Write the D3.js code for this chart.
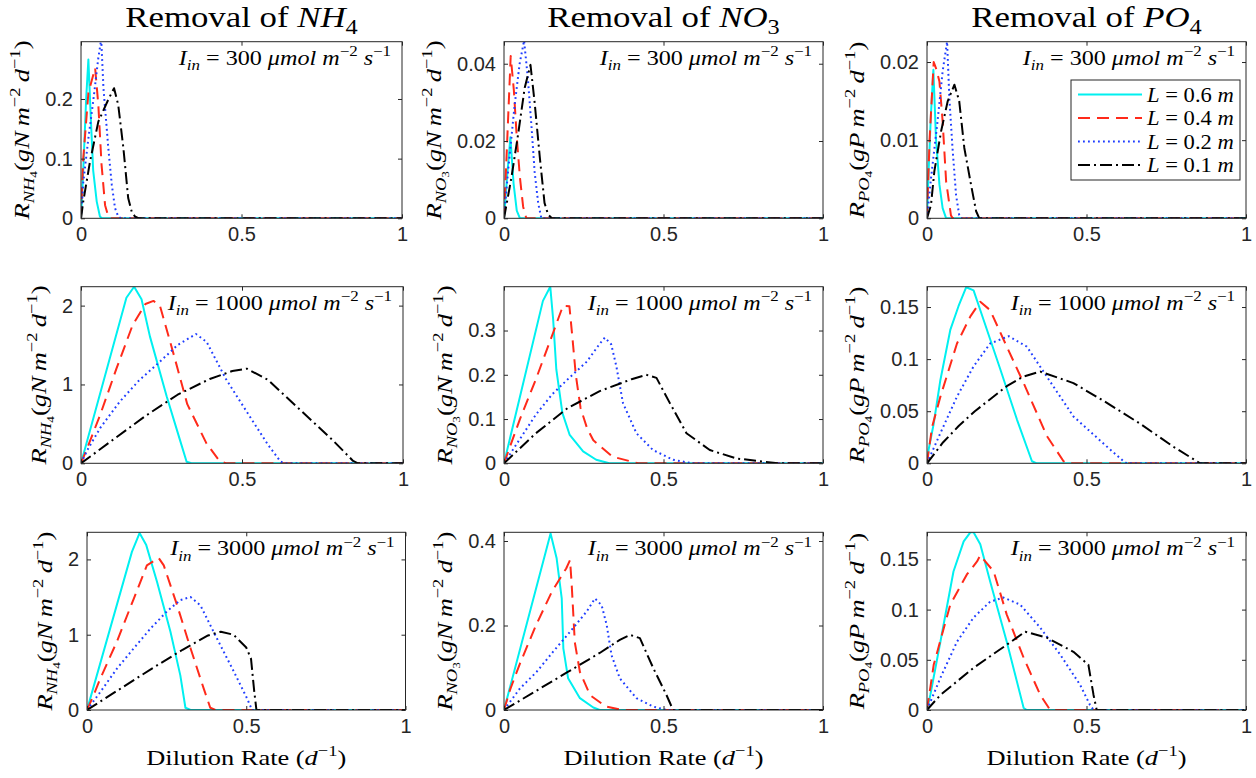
<!DOCTYPE html>
<html>
<head>
<meta charset="utf-8">
<script src="https://cdn.jsdelivr.net/npm/d3@7"></script>
<style>
  body { margin: 0; background: #fff; }
  text { white-space: pre; }
</style>
</head>
<body>
<script>
// ---- data: [dilution rate, removal rate] per series, order L = 0.6, 0.4, 0.2, 0.1 m
const lengths = ['0.6', '0.4', '0.2', '0.1'];
const intensities = ['300', '1000', '3000'];
const nutrients = [['NH', '4', 'gN'], ['NO', '3', 'gN'], ['PO', '4', 'gP']];

const NH4_300 = [
  [[0,0],[0.007,0.08],[0.016,0.2],[0.023,0.266],[0.031,0.162],[0.038,0.08],[0.049,0.028],[0.059,0.003],[0.065,0],[1,0]],
  [[0,0],[0.007,0.1],[0.023,0.21],[0.044,0.252],[0.054,0.19],[0.064,0.09],[0.075,0.022],[0.085,0.003],[0.092,0],[1,0]],
  [[0,0],[0.007,0.06],[0.023,0.134],[0.038,0.196],[0.054,0.269],[0.063,0.3],[0.07,0.218],[0.085,0.118],[0.096,0.056],[0.106,0.017],[0.116,0.003],[0.125,0],[1,0]],
  [[0,0],[0.007,0.028],[0.028,0.095],[0.054,0.162],[0.085,0.199],[0.103,0.218],[0.116,0.19],[0.132,0.118],[0.147,0.034],[0.158,0.011],[0.168,0.003],[0.18,0],[1,0]]
];
const NO3_300 = [
  [[0,0],[0.01,0.011],[0.02,0.021],[0.03,0.009],[0.04,0.002],[0.05,0],[1,0]],
  [[0,0],[0.01,0.02],[0.021,0.042],[0.031,0.033],[0.04,0.021],[0.05,0.0105],[0.06,0.003],[0.07,0],[1,0]],
  [[0,0],[0.0125,0.012],[0.033,0.029],[0.049,0.04],[0.063,0.046],[0.075,0.036],[0.086,0.024],[0.096,0.012],[0.107,0.004],[0.117,0],[1,0]],
  [[0,0],[0.023,0.0104],[0.044,0.0216],[0.065,0.0338],[0.083,0.0397],[0.096,0.03],[0.112,0.016],[0.127,0.004],[0.138,0.001],[0.15,0],[1,0]]
];
const PO4_300 = [
  [[0,0],[0.005,0.006],[0.012,0.013],[0.02,0.019],[0.028,0.0103],[0.039,0.0043],[0.049,0.0013],[0.06,0],[1,0]],
  [[0,0],[0.008,0.01],[0.021,0.02],[0.03,0.019],[0.039,0.0175],[0.049,0.0124],[0.06,0.0047],[0.075,0.0004],[0.08,0],[1,0]],
  [[0,0],[0.0125,0.0051],[0.033,0.0124],[0.049,0.0188],[0.063,0.0226],[0.07,0.0154],[0.08,0.009],[0.091,0.003],[0.101,0.0004],[0.107,0],[1,0]],
  [[0,0],[0.0125,0.0017],[0.023,0.006],[0.044,0.0111],[0.065,0.015],[0.086,0.0171],[0.101,0.015],[0.117,0.009],[0.138,0.0043],[0.154,0.0009],[0.164,0],[1,0]]
];
const NH4_1000 = [
  [[0,0],[0.141,2.1],[0.165,2.24],[0.188,2.08],[0.214,1.61],[0.266,0.85],[0.307,0.3],[0.328,0.02],[0.343,0],[1,0]],
  [[0,0],[0.02,0.2],[0.06,0.62],[0.11,1.2],[0.16,1.75],[0.2,2.02],[0.225,2.06],[0.245,2.0],[0.29,1.35],[0.33,0.75],[0.39,0.25],[0.43,0.03],[0.45,0],[1,0]],
  [[0,0],[0.02,0.17],[0.06,0.45],[0.12,0.78],[0.18,1.05],[0.24,1.27],[0.3,1.5],[0.357,1.64],[0.39,1.54],[0.45,1.07],[0.52,0.62],[0.58,0.24],[0.62,0.02],[0.635,0],[1,0]],
  [[0,0],[0.1,0.3],[0.2,0.6],[0.3,0.87],[0.4,1.07],[0.47,1.17],[0.515,1.2],[0.58,1.06],[0.68,0.68],[0.78,0.3],[0.845,0.03],[0.86,0],[1,0]]
];
const NO3_1000 = [
  [[0,0],[0.122,0.367],[0.145,0.399],[0.154,0.326],[0.164,0.212],[0.183,0.114],[0.206,0.064],[0.248,0.027],[0.289,0.008],[0.33,0],[1,0]],
  [[0,0],[0.05,0.1],[0.1,0.19],[0.154,0.295],[0.185,0.356],[0.205,0.355],[0.215,0.28],[0.225,0.2],[0.24,0.125],[0.26,0.08],[0.28,0.052],[0.34,0.015],[0.42,0],[1,0]],
  [[0,0],[0.05,0.055],[0.1,0.11],[0.15,0.155],[0.2,0.19],[0.26,0.23],[0.3,0.27],[0.316,0.284],[0.336,0.269],[0.352,0.22],[0.373,0.136],[0.415,0.068],[0.467,0.03],[0.53,0.008],[0.59,0],[1,0]],
  [[0,0],[0.1,0.068],[0.2,0.125],[0.3,0.163],[0.4,0.19],[0.446,0.2],[0.478,0.193],[0.52,0.136],[0.572,0.068],[0.645,0.03],[0.728,0.011],[0.81,0.004],[0.864,0],[1,0]]
];
const PO4_1000 = [
  [[0,0],[0.005,0.013],[0.021,0.038],[0.042,0.08],[0.073,0.128],[0.099,0.151],[0.123,0.169],[0.146,0.166],[0.177,0.138],[0.23,0.09],[0.282,0.042],[0.329,0.002],[0.344,0],[1,0]],
  [[0,0],[0.016,0.035],[0.042,0.064],[0.094,0.115],[0.136,0.141],[0.167,0.155],[0.198,0.147],[0.25,0.112],[0.303,0.077],[0.376,0.026],[0.428,0.002],[0.44,0],[1,0]],
  [[0,0],[0.042,0.029],[0.094,0.064],[0.146,0.093],[0.198,0.115],[0.256,0.122],[0.313,0.112],[0.376,0.083],[0.459,0.045],[0.564,0.016],[0.616,0.002],[0.626,0],[1,0]],
  [[0,0],[0.05,0.02],[0.1,0.036],[0.15,0.05],[0.2,0.062],[0.25,0.074],[0.3,0.083],[0.355,0.088],[0.459,0.077],[0.564,0.058],[0.668,0.038],[0.772,0.016],[0.856,0],[1,0]]
];
const NH4_3000 = [
  [[0,0],[0.141,2.1],[0.165,2.35],[0.186,2.19],[0.22,1.7],[0.262,1.04],[0.293,0.46],[0.309,0.03],[0.325,0],[1,0]],
  [[0,0],[0.021,0.2],[0.042,0.42],[0.094,0.91],[0.147,1.48],[0.188,1.92],[0.225,2.02],[0.241,1.92],[0.283,1.39],[0.325,0.82],[0.366,0.29],[0.387,0.03],[0.403,0],[1,0]],
  [[0,0],[0.042,0.24],[0.094,0.55],[0.147,0.82],[0.199,1.08],[0.251,1.31],[0.293,1.46],[0.325,1.5],[0.356,1.39],[0.408,0.95],[0.461,0.51],[0.503,0.15],[0.518,0],[1,0]],
  [[0,0],[0.1,0.27],[0.2,0.54],[0.3,0.8],[0.38,0.99],[0.42,1.04],[0.46,1.0],[0.5,0.83],[0.515,0.68],[0.525,0.25],[0.532,0],[1,0]]
];
const NO3_3000 = [
  [[0,0],[0.146,0.418],[0.165,0.359],[0.181,0.264],[0.186,0.146],[0.201,0.075],[0.238,0.028],[0.28,0.006],[0.3,0],[1,0]],
  [[0,0],[0.02,0.05],[0.05,0.11],[0.1,0.2],[0.15,0.28],[0.195,0.335],[0.207,0.355],[0.212,0.3],[0.222,0.16],[0.238,0.09],[0.27,0.035],[0.32,0.008],[0.37,0],[1,0]],
  [[0,0],[0.05,0.051],[0.102,0.09],[0.154,0.138],[0.207,0.185],[0.259,0.233],[0.285,0.264],[0.306,0.248],[0.322,0.201],[0.337,0.13],[0.363,0.075],[0.415,0.028],[0.468,0.008],[0.509,0],[1,0]],
  [[0,0],[0.1,0.045],[0.2,0.09],[0.3,0.135],[0.363,0.166],[0.395,0.178],[0.426,0.17],[0.468,0.099],[0.509,0.036],[0.53,0],[1,0]]
];
const PO4_3000 = [
  [[0,0],[0.0104,0.015],[0.042,0.068],[0.083,0.138],[0.115,0.168],[0.136,0.177],[0.146,0.177],[0.167,0.165],[0.198,0.128],[0.25,0.068],[0.303,0.002],[0.313,0],[1,0]],
  [[0,0],[0.021,0.045],[0.073,0.105],[0.125,0.135],[0.157,0.148],[0.167,0.154],[0.209,0.138],[0.25,0.095],[0.303,0.052],[0.355,0.015],[0.386,0],[1,0]],
  [[0,0],[0.042,0.032],[0.094,0.068],[0.146,0.092],[0.198,0.108],[0.24,0.112],[0.292,0.105],[0.355,0.082],[0.418,0.055],[0.48,0.025],[0.511,0.005],[0.522,0],[1,0]],
  [[0,0],[0.042,0.015],[0.146,0.042],[0.25,0.065],[0.308,0.078],[0.376,0.072],[0.459,0.058],[0.506,0.045],[0.522,0.015],[0.532,0],[1,0]]
];

const panels = [
  [NH4_300, NO3_300, PO4_300],
  [NH4_1000, NO3_1000, PO4_1000],
  [NH4_3000, NO3_3000, PO4_3000]
];
const yMax = [[0.296, 0.0457, 0.0226], [2.24, 0.399, 0.1695], [2.36, 0.4206, 0.177]];
const yTicks = [
  [[0, 0.1, 0.2], [0, 0.02, 0.04], [0, 0.01, 0.02]],
  [[0, 1, 2], [0, 0.1, 0.2, 0.3], [0, 0.05, 0.1, 0.15]],
  [[0, 1, 2], [0, 0.2, 0.4], [0, 0.05, 0.1, 0.15]]
];
const xTicks = [0, 0.5, 1];

// ---- layout (pixel boxes of the axes, as in the figure)
const W = 1256, H = 778;
const rowTB = [[41.7, 218.3], [286.7, 463.3], [532.3, 710]];
const colLR = [
  [[81, 402], [504, 823], [927, 1246]],
  [[81, 403], [504, 823], [927, 1246]],
  [[87, 405.5], [504, 823], [927, 1246]]
];
const colors = ['#00f0f0', '#ff2a1a', '#1f3dff', '#000000'];
const dashes = [null, '12,7', '1.8,3.2', '12,4,2,4'];
const AX = '#262626';
const SANS = "'Liberation Sans', Arial, sans-serif";
const SERIF = "'Liberation Serif', 'Times New Roman', serif";

const svg = d3.select('body').append('svg')
  .attr('width', W).attr('height', H)
  .style('background', '#fff');

// write a little math string: segs = [text, {i: italic, k: size factor, sh: baseline shift in em}]
function mtext(parent, segs, size, anchor) {
  const t = parent.append('text')
    .attr('font-family', SERIF)
    .attr('font-size', size)
    .attr('fill', '#000')
    .attr('text-anchor', anchor || 'start');
  let cur = 0;
  segs.forEach(([s, o]) => {
    const sh = (o.sh || 0) * size;
    t.append('tspan')
      .attr('dy', sh - cur)
      .attr('font-style', o.i ? 'italic' : 'normal')
      .attr('font-size', size * (o.k || 1))
      .text(s);
    cur = sh;
  });
  return t;
}

const line = (x, y) => d3.line().x(d => x(d[0])).y(d => y(d[1]));

panels.forEach((row, r) => {
  row.forEach((series, c) => {
    const [l, rt] = colLR[r][c];
    const [t, b] = rowTB[r];
    const x = d3.scaleLinear().domain([0, 1]).range([l, rt]);
    const y = d3.scaleLinear().domain([0, yMax[r][c]]).range([b, t]);
    const g = svg.append('g');
    const id = `clip${r}${c}`;
    g.append('clipPath').attr('id', id)
      .append('rect').attr('x', l).attr('y', t).attr('width', rt - l).attr('height', b - t);

    // series
    const lg = g.append('g').attr('clip-path', `url(#${id})`);
    series.forEach((pts, i) => {
      lg.append('path')
        .datum(pts)
        .attr('d', line(x, y))
        .attr('fill', 'none')
        .attr('stroke', colors[i])
        .attr('stroke-width', 2)
        .attr('stroke-dasharray', dashes[i])
        .attr('stroke-linejoin', 'round');
    });

    // axes: ticks inward on all four sides
    const fmt = d => String(d);
    const ax = g.append('g');
    ax.append('g').attr('transform', `translate(0,${b})`)
      .call(d3.axisBottom(x).tickValues(xTicks).tickSize(-4).tickPadding(9).tickFormat(fmt));
    ax.append('g').attr('transform', `translate(0,${t})`)
      .call(d3.axisTop(x).tickValues(xTicks).tickSize(-4).tickFormat(''));
    const yl = ax.append('g').attr('transform', `translate(${l},0)`)
      .call(d3.axisLeft(y).tickValues(yTicks[r][c]).tickSize(-4).tickPadding(8).tickFormat(fmt));
    ax.append('g').attr('transform', `translate(${rt},0)`)
      .call(d3.axisRight(y).tickValues(yTicks[r][c]).tickSize(-4).tickFormat(''));
    ax.selectAll('.domain').remove();
    ax.selectAll('g').attr('font-family', SANS).attr('font-size', 20);
    ax.selectAll('.tick line').attr('stroke', AX).attr('stroke-width', 1);
    ax.selectAll('.tick text').attr('fill', AX);
    g.append('rect').attr('x', l).attr('y', t).attr('width', rt - l).attr('height', b - t)
      .attr('fill', 'none').attr('stroke', AX).attr('stroke-width', 1);

    // y label, placed left of the widest tick label
    let lw = 0;
    yl.selectAll('.tick text').each(function () { lw = Math.max(lw, this.getComputedTextLength()); });
    const [sp, sub, unit] = nutrients[c];
    const yg = svg.append('g')
      .attr('transform', `translate(${l - 8 - lw - 16},${(t + b) / 2}) rotate(-90) scale(1.2,1)`);
    mtext(yg, [
      ['R', {i: 1}], [sp, {i: 1, k: 0.7, sh: 0.22}], [sub, {k: 0.5, sh: 0.36}],
      ['(', {}], [unit, {i: 1}], ['\u2009m', {i: 1}], ['\u2212' + '2', {k: 0.7, sh: -0.4}],
      ['\u2009d', {i: 1}], ['\u2212' + '1', {k: 0.7, sh: -0.4}], [')', {}]
    ], 22, 'middle');

    // light intensity note
    const ng = svg.append('g').attr('transform', `translate(${rt - 11},${t + 23}) scale(1.15,1)`);
    mtext(ng, [
      ['I', {i: 1}], ['in', {i: 1, k: 0.7, sh: 0.25}], [` = ${intensities[r]} `, {}],
      ['\u03bcmol', {i: 1}], [' m', {i: 1}], ['\u2212' + '2', {k: 0.7, sh: -0.4}],
      [' s', {i: 1}], ['\u2212' + '1', {k: 0.7, sh: -0.4}]
    ], 21, 'end');

    // column titles
    if (r === 0) {
      const tg = svg.append('g').attr('transform', `translate(${(l + rt) / 2},27) scale(1.2,1)`);
      mtext(tg, [['Removal of ', {}], [sp, {i: 1}], [sub, {k: 0.7, sh: 0.25}]], 29, 'middle');
    }
    // x label on the bottom row
    if (r === 2) {
      const xg = svg.append('g').attr('transform', `translate(${(l + rt) / 2},765) scale(1.2,1)`);
      mtext(xg, [['Dilution Rate (', {}], ['d', {i: 1}], ['\u2212' + '1', {k: 0.7, sh: -0.4}], [')', {}]], 22, 'middle');
    }
  });
});

// legend in the top-right panel
const leg = svg.append('g').attr('transform', 'translate(1071,80)');
leg.append('rect').attr('width', 169).attr('height', 100)
  .attr('fill', '#fff').attr('stroke', AX).attr('stroke-width', 1);
lengths.forEach((v, i) => {
  const yy = 14.5 + i * 23.5;
  leg.append('line')
    .attr('x1', 7).attr('x2', 71).attr('y1', yy).attr('y2', yy)
    .attr('stroke', colors[i]).attr('stroke-width', 2)
    .attr('stroke-dasharray', dashes[i]);
  const tg = leg.append('g').attr('transform', `translate(76,${yy + 7}) scale(1.13,1)`);
  mtext(tg, [['L', {i: 1}], [` = ${v} `, {}], ['m', {i: 1}]], 20, 'start');
});
</script>
</body>
</html>
